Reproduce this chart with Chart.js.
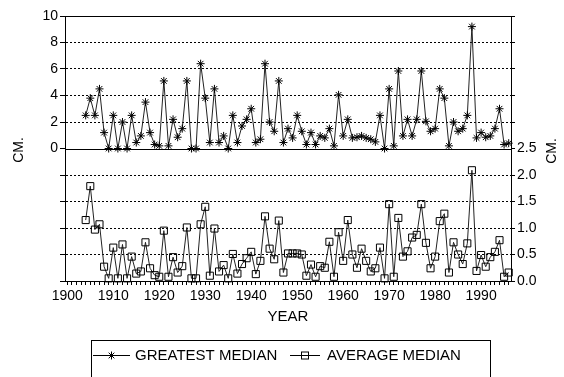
<!DOCTYPE html>
<html>
<head>
<meta charset="utf-8">
<script src="https://cdn.jsdelivr.net/npm/chart.js@4.4.1/dist/chart.umd.min.js"></script>
<style>
  html, body { margin: 0; padding: 0; background: #fff; }
  #wrap { width: 564px; height: 377px; position: relative; }
</style>
</head>
<body>
<div id="wrap"><canvas id="chart" width="564" height="377"></canvas></div>
<script>
var years = [
  1904, 1905, 1906, 1907, 1908, 1909, 1910, 1911, 1912, 1913,
  1914, 1915, 1916, 1917, 1918, 1919, 1920, 1921, 1922, 1923,
  1924, 1925, 1926, 1927, 1928, 1929, 1930, 1931, 1932, 1933,
  1934, 1935, 1936, 1937, 1938, 1939, 1940, 1941, 1942, 1943,
  1944, 1945, 1946, 1947, 1948, 1949, 1950, 1951, 1952, 1953,
  1954, 1955, 1956, 1957, 1958, 1959, 1960, 1961, 1962, 1963,
  1964, 1965, 1966, 1967, 1968, 1969, 1970, 1971, 1972, 1973,
  1974, 1975, 1976, 1977, 1978, 1979, 1980, 1981, 1982, 1983,
  1984, 1985, 1986, 1987, 1988, 1989, 1990, 1991, 1992, 1993,
  1994, 1995, 1996
];

// greatest median, cm (top panel, left axis)
var greatestMedian = [
  2.5, 3.8, 2.5, 4.5, 1.2, 0, 2.5, 0, 2.0, 0,
  2.5, 0.45, 0.95, 3.5, 1.2, 0.3, 0.2, 5.1, 0.2, 2.2,
  0.85, 1.5, 5.1, 0, 0, 6.4, 3.8, 0.45, 4.5, 0.45,
  0.95, 0, 2.5, 0.45, 1.7, 2.2, 3.0, 0.45, 0.7, 6.4,
  2.0, 1.3, 5.1, 0.45, 1.5, 0.8, 2.5, 1.3, 0.3, 1.2,
  0.3, 0.95, 0.8, 1.5, 0.2, 4.05, 0.95, 2.2, 0.8, 0.85,
  0.95, 0.8, 0.7, 0.5, 2.5, 0, 4.5, 0.2, 5.85, 0.95,
  2.2, 0.95, 2.2, 5.85, 2.05, 1.3, 1.5, 4.5, 3.8, 0.2,
  2.0, 1.3, 1.5, 2.5, 9.2, 0.8, 1.2, 0.85, 0.95, 1.5,
  3.0, 0.3, 0.4
];

// average median, cm (bottom panel, right axis)
var averageMedian = [
  1.15, 1.79, 0.97, 1.07, 0.27, 0.05, 0.63, 0.05, 0.69, 0.05,
  0.46, 0.14, 0.18, 0.73, 0.24, 0.11, 0.08, 0.95, 0.08, 0.45,
  0.16, 0.28, 1.01, 0.05, 0.05, 1.07, 1.40, 0.10, 0.99, 0.18,
  0.30, 0.05, 0.51, 0.14, 0.32, 0.43, 0.55, 0.13, 0.38, 1.22,
  0.61, 0.41, 1.14, 0.16, 0.52, 0.52, 0.52, 0.50, 0.10, 0.31,
  0.08, 0.28, 0.25, 0.74, 0.08, 0.92, 0.38, 1.15, 0.50, 0.25,
  0.61, 0.38, 0.18, 0.24, 0.63, 0.05, 1.45, 0.08, 1.19, 0.46,
  0.56, 0.82, 0.87, 1.45, 0.72, 0.24, 0.46, 1.13, 1.27, 0.16,
  0.73, 0.50, 0.32, 0.71, 2.09, 0.19, 0.49, 0.27, 0.45, 0.55,
  0.77, 0.08, 0.16
];

var seriesNames = ['GREATEST MEDIAN', 'AVERAGE MEDIAN'];
var axisTitleY = 'CM.';
var axisTitleX = 'YEAR';

var FONT = "'Liberation Sans', Arial, Helvetica, sans-serif";

function points(vals) {
  var out = [];
  for (var i = 0; i < years.length; i++) {
    out.push({ x: years[i], y: vals[i] });
  }
  return out;
}

function drawStar(ctx, x, y, r) {
  var d = r * Math.SQRT1_2;
  ctx.beginPath();
  ctx.moveTo(x - r, y); ctx.lineTo(x + r, y);
  ctx.moveTo(x, y - r); ctx.lineTo(x, y + r);
  ctx.moveTo(x - d, y - d); ctx.lineTo(x + d, y + d);
  ctx.moveTo(x - d, y + d); ctx.lineTo(x + d, y - d);
  ctx.stroke();
}

// frame lines, axis titles and the boxed legend
var decorations = {
  id: 'decorations',
  afterDraw: function(chart) {
    var ctx = chart.ctx;
    var area = chart.chartArea;
    var mid = Math.round(chart.scales.yG.getPixelForValue(0)) + 0.5;
    var top = Math.round(area.top) + 0.5;

    ctx.save();
    ctx.strokeStyle = '#000';
    ctx.lineWidth = 1;
    ctx.beginPath();
    ctx.moveTo(area.left, top); ctx.lineTo(area.right, top);
    ctx.moveTo(area.left, mid); ctx.lineTo(area.right, mid);
    ctx.stroke();

    ctx.fillStyle = '#000';
    ctx.font = '14px ' + FONT;
    ctx.textAlign = 'center';
    ctx.textBaseline = 'middle';

    ctx.save();
    ctx.translate(19, 150);
    ctx.rotate(-Math.PI / 2);
    ctx.fillText(axisTitleY, 0, 0);
    ctx.restore();

    ctx.save();
    ctx.translate(552, 151);
    ctx.rotate(-Math.PI / 2);
    ctx.fillText(axisTitleY, 0, 0);
    ctx.restore();

    ctx.font = '15px ' + FONT;
    ctx.fillText(axisTitleX, 288, 317);

    // legend
    ctx.strokeRect(91.5, 340.5, 399, 60);
    var ly = 355.5;
    ctx.beginPath();
    ctx.moveTo(93, ly); ctx.lineTo(130, ly);
    ctx.moveTo(290, ly); ctx.lineTo(320, ly);
    ctx.stroke();
    drawStar(ctx, 111.5, ly, 4);
    ctx.strokeRect(301.5, ly - 3.5, 7, 7);

    ctx.textAlign = 'left';
    ctx.fillText(seriesNames[0], 135, 356);
    ctx.fillText(seriesNames[1], 327, 356);
    ctx.restore();
  }
};

var ctx = document.getElementById('chart').getContext('2d');
var chart = new Chart(ctx, {
  type: 'line',
  data: {
    datasets: [
      {
        label: seriesNames[0],
        data: points(greatestMedian),
        yAxisID: 'yG',
        borderColor: '#222',
        borderWidth: 1,
        pointStyle: 'star',
        pointRadius: 4,
        pointBorderColor: '#000',
        pointBorderWidth: 1,
        pointBackgroundColor: 'rgba(0,0,0,0)',
        tension: 0,
        clip: false
      },
      {
        label: seriesNames[1],
        data: points(averageMedian),
        yAxisID: 'yA',
        borderColor: '#222',
        borderWidth: 1,
        pointStyle: 'rect',
        pointRadius: 5,
        pointBorderColor: '#000',
        pointBorderWidth: 1,
        pointBackgroundColor: 'rgba(0,0,0,0)',
        tension: 0,
        clip: false
      }
    ]
  },
  options: {
    responsive: false,
    animation: false,
    events: [],
    layout: { padding: { top: 16, left: 0, right: 0, bottom: 0 } },
    plugins: {
      legend: { display: false },
      title: { display: false },
      tooltip: { enabled: false }
    },
    scales: {
      x: {
        type: 'linear',
        position: 'bottom',
        min: 1899.5,
        max: 1996.5,
        afterBuildTicks: function(scale) {
          var t = [];
          for (var v = 1900; v <= 1996; v++) t.push({ value: v });
          scale.ticks = t;
        },
        afterFit: function(scale) { scale.height = 96; },
        grid: { drawOnChartArea: false, drawTicks: true, tickLength: 4, tickColor: '#000' },
        border: { display: true, color: '#000', width: 1 },
        ticks: {
          autoSkip: false,
          maxRotation: 0,
          minRotation: 0,
          padding: 3,
          color: '#000',
          font: { family: FONT, size: 14 },
          callback: function(v) { return v % 10 === 0 ? String(v) : ''; }
        }
      },
      yG: {
        type: 'linear',
        position: 'left',
        min: -10,
        max: 10,
        afterFit: function(scale) { scale.width = 65; },
        grid: {
          drawOnChartArea: true,
          drawTicks: true,
          tickLength: 5,
          tickColor: '#000',
          color: function(c) {
            var v = c.tick ? c.tick.value : 0;
            return (v === 0 || v === 10 || v === -10) ? 'rgba(0,0,0,0)' : '#000';
          }
        },
        border: { display: true, color: '#000', width: 1, dash: [2, 2] },
        ticks: {
          stepSize: 2,
          padding: 2,
          color: '#000',
          font: { family: FONT, size: 14 },
          callback: function(v) { return v >= 0 ? String(v) : ''; }
        }
      },
      yA: {
        type: 'linear',
        position: 'right',
        min: 0,
        max: 5,
        afterFit: function(scale) { scale.width = 53; },
        grid: { drawOnChartArea: false, drawTicks: true, tickLength: 4, tickColor: '#000' },
        border: { display: true, color: '#000', width: 1 },
        ticks: {
          stepSize: 0.5,
          padding: 2,
          color: '#000',
          font: { family: FONT, size: 14 },
          callback: function(v) { return v <= 2.5 ? v.toFixed(1) : ''; }
        }
      }
    }
  },
  plugins: [decorations]
});
</script>
</body>
</html>
